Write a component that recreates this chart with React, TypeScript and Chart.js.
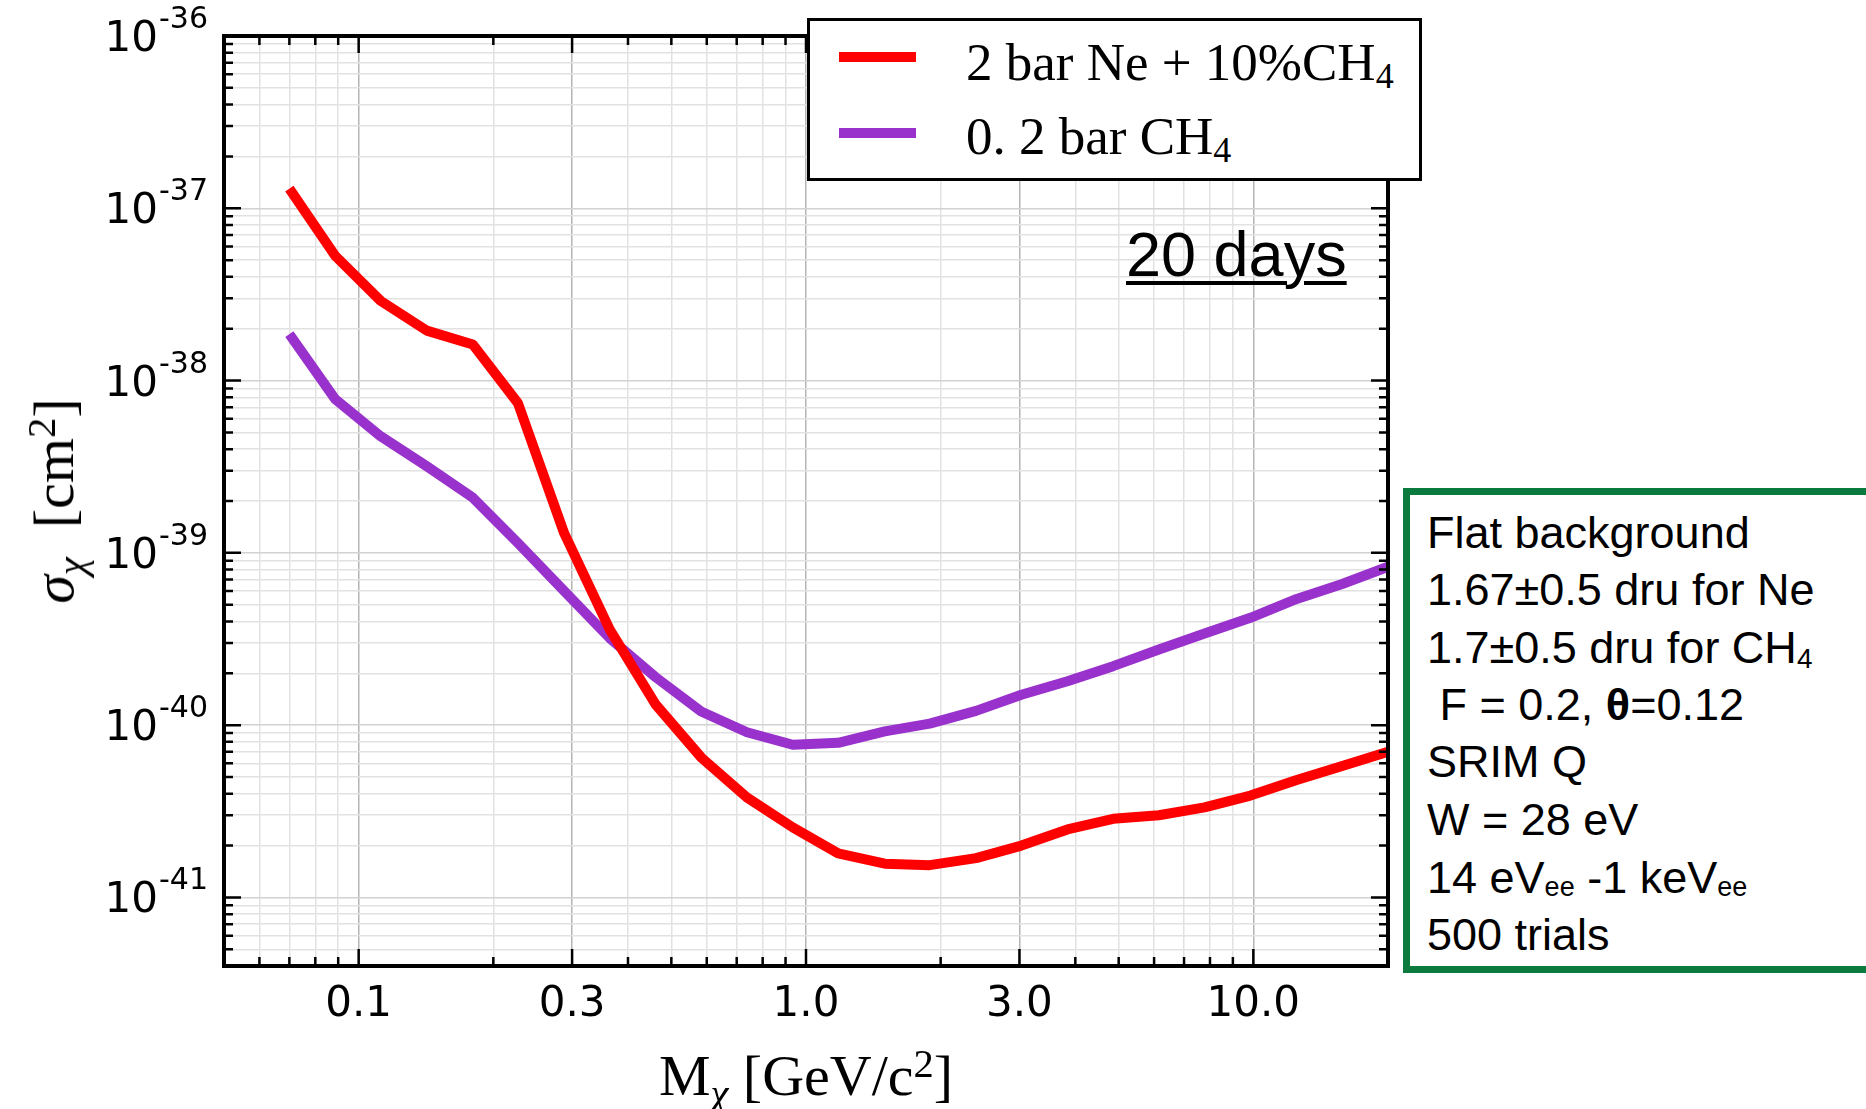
import React, { useEffect, useRef } from "react";
import { Chart, registerables } from "chart.js";

Chart.register(...registerables);

// ---- data ----
const MASS_GEV = [0.07, 0.0886, 0.112, 0.142, 0.18, 0.227, 0.288, 0.364, 0.461, 0.583, 0.738, 0.934, 1.18, 1.5, 1.89, 2.4, 3.03, 3.84, 4.86, 6.15, 7.78, 9.85, 12.5, 15.8, 20.0];
const SIGMA_NE_CH4 = [1.3e-37, 5.3e-38, 2.9e-38, 1.95e-38, 1.62e-38, 7.4e-39, 1.3e-39, 3.6e-40, 1.32e-40, 6.5e-41, 3.8e-41, 2.55e-41, 1.8e-41, 1.57e-41, 1.54e-41, 1.69e-41, 2.0e-41, 2.48e-41, 2.86e-41, 3.0e-41, 3.33e-41, 3.9e-41, 4.8e-41, 5.8e-41, 7.0e-41];
const SIGMA_CH4 = [1.86e-38, 7.8e-39, 4.75e-39, 3.18e-39, 2.09e-39, 1.14e-39, 6.0e-40, 3.2e-40, 1.9e-40, 1.2e-40, 9.1e-41, 7.7e-41, 7.9e-41, 9.2e-41, 1.02e-40, 1.21e-40, 1.5e-40, 1.8e-40, 2.2e-40, 2.75e-40, 3.4e-40, 4.2e-40, 5.4e-40, 6.6e-40, 8.3e-40];

const X_TICKS = [0.1, 0.3, 1, 3, 10];
const X_TICK_LABELS = ["0.1", "0.3", "1.0", "3.0", "10.0"];
const Y_TICKS = [1e-41, 1e-40, 1e-39, 1e-38, 1e-37, 1e-36];
const Y_TICK_EXPONENTS = ["-41", "-40", "-39", "-38", "-37", "-36"];
const X_RANGE = [0.05, 20];
const Y_RANGE = [4e-42, 1e-36];

const RED = "#ff0000";
const PURPLE = "#9932cc";
const GREEN = "#0a7a3e";

function minorValues(min: number, max: number): number[] {
  const out: number[] = [];
  const e0 = Math.floor(Math.log10(min));
  const e1 = Math.ceil(Math.log10(max));
  for (let e = e0; e <= e1; e++) {
    for (let m = 1; m <= 9; m++) {
      const v = m * Math.pow(10, e);
      if (v >= min * (1 - 1e-9) && v <= max * (1 + 1e-9)) out.push(v);
    }
  }
  return out;
}
const isIn = (v: number, list: number[]) => list.some((m) => Math.abs(Math.log10(v / m)) < 1e-6);

const X_ALL = minorValues(X_RANGE[0], X_RANGE[1]);
const Y_ALL = minorValues(Y_RANGE[0], Y_RANGE[1]);

const framePlugin = {
  id: "frame",
  afterDatasetsDraw(chart: any) {
    const { ctx, chartArea: a, scales } = chart;
    const xs = scales.x;
    const ys = scales.y;
    ctx.save();
    ctx.strokeStyle = "#000";
    ctx.lineWidth = 2.5;
    ctx.beginPath();
    X_ALL.forEach((v) => {
      const px = xs.getPixelForValue(v);
      if (px <= a.left + 1 || px >= a.right - 1) return;
      const len = isIn(v, X_TICKS) ? 17 : 9;
      ctx.moveTo(px, a.bottom);
      ctx.lineTo(px, a.bottom - len);
      ctx.moveTo(px, a.top);
      ctx.lineTo(px, a.top + len);
    });
    Y_ALL.forEach((v) => {
      const py = ys.getPixelForValue(v);
      if (py <= a.top + 1 || py >= a.bottom - 1) return;
      const len = isIn(v, Y_TICKS) ? 17 : 9;
      ctx.moveTo(a.left, py);
      ctx.lineTo(a.left + len, py);
      ctx.moveTo(a.right, py);
      ctx.lineTo(a.right - len, py);
    });
    ctx.stroke();
    ctx.lineWidth = 4;
    ctx.strokeRect(a.left, a.top, a.right - a.left, a.bottom - a.top);

    ctx.fillStyle = "#000";
    ctx.font = '42px "DejaVu Sans"';
    ctx.textAlign = "center";
    ctx.textBaseline = "alphabetic";
    X_TICKS.forEach((v, i) => {
      const px = xs.getPixelForValue(v);
      ctx.fillText(X_TICK_LABELS[i], px, a.bottom + 50);
    });
    Y_TICKS.forEach((v, i) => {
      const py = ys.getPixelForValue(v);
      const right = a.left - 16;
      ctx.font = '30px "DejaVu Sans"';
      ctx.textAlign = "right";
      const ew = ctx.measureText(Y_TICK_EXPONENTS[i]).width;
      const base = py + 15;
      ctx.fillText(Y_TICK_EXPONENTS[i], right, base - 23);
      ctx.font = '42px "DejaVu Sans"';
      ctx.fillText("10", right - ew - 1, base);
    });
    ctx.restore();
  },
};

const Sub = ({ children, size = 0.68, drop = 0.22 }: any) => (
  <span style={{ fontSize: size + "em", position: "relative", top: drop + "em" }}>{children}</span>
);
const Sup = ({ children, size = 0.68, rise = 0.5 }: any) => (
  <span style={{ fontSize: size + "em", position: "relative", top: -rise + "em" }}>{children}</span>
);

const SERIF = '"Liberation Serif", "Times New Roman", serif';
const SANS = '"Liberation Sans", Arial, sans-serif';

function At({ left, baseline, size, font, children, style }: any) {
  return (
    <div
      style={{
        position: "absolute",
        left,
        top: baseline - size * 0.845,
        fontSize: size,
        lineHeight: 1,
        fontFamily: font,
        whiteSpace: "pre",
        color: "#000",
        ...style,
      }}
    >
      {children}
    </div>
  );
}

export default function App() {
  const ref = useRef<HTMLCanvasElement | null>(null);

  useEffect(() => {
    if (!ref.current) return;
    const gridX = (c: any) => {
      const v = c.tick && c.tick.value;
      return v && isIn(v, X_TICKS) ? "#b4b4b4" : "#e2e2e2";
    };
    const gridY = (c: any) => {
      const v = c.tick && c.tick.value;
      return v && isIn(v, Y_TICKS) ? "#d2d2d2" : "#e2e2e2";
    };
    const chart = new Chart(ref.current, {
      type: "line",
      data: {
        datasets: [
          {
            label: "2 bar Ne + 10%CH4",
            data: MASS_GEV.map((m, i) => ({ x: m, y: SIGMA_NE_CH4[i] })),
            borderColor: RED,
            backgroundColor: RED,
            borderWidth: 10,
            pointRadius: 0,
            tension: 0,
            fill: false,
            borderJoinStyle: "round",
          },
          {
            label: "0.2 bar CH4",
            data: MASS_GEV.map((m, i) => ({ x: m, y: SIGMA_CH4[i] })),
            borderColor: PURPLE,
            backgroundColor: PURPLE,
            borderWidth: 10,
            pointRadius: 0,
            tension: 0,
            fill: false,
            borderJoinStyle: "round",
          },
        ],
      },
      options: {
        responsive: false,
        animation: false,
        events: [],
        layout: { padding: { left: 0, top: 36, right: 478, bottom: 0 } },
        plugins: { legend: { display: false }, tooltip: { enabled: false }, title: { display: false } },
        scales: {
          x: {
            type: "logarithmic",
            min: X_RANGE[0],
            max: X_RANGE[1],
            afterBuildTicks: (s: any) => {
              s.ticks = X_ALL.map((v) => ({ value: v }));
            },
            afterFit: (s: any) => {
              s.height = 143;
            },
            ticks: { display: false },
            grid: { color: gridX, lineWidth: 1.5, drawTicks: false },
            border: { display: false },
          },
          y: {
            type: "logarithmic",
            min: Y_RANGE[0],
            max: Y_RANGE[1],
            afterBuildTicks: (s: any) => {
              s.ticks = Y_ALL.map((v) => ({ value: v }));
            },
            afterFit: (s: any) => {
              s.width = 224;
            },
            ticks: { display: false },
            grid: { color: gridY, lineWidth: 1.5, drawTicks: false },
            border: { display: false },
          },
        },
      } as any,
      plugins: [framePlugin],
    });
    return () => chart.destroy();
  }, []);

  const boxLines: any[] = [
    <>Flat background</>,
    <>1.67±0.5 dru for Ne</>,
    <>1.7±0.5 dru for CH<Sub size={0.62} drop={0.18}>4</Sub></>,
    <> F = 0.2, <b>θ</b>=0.12</>,
    <>SRIM Q</>,
    <>W = 28 eV</>,
    <>14 eV<Sub size={0.6} drop={0.12}>ee</Sub> -1 keV<Sub size={0.6} drop={0.12}>ee</Sub></>,
    <>500 trials</>,
  ];
  const boxBaselines = [548, 605, 663, 720, 777, 835, 893, 950];

  return (
    <div style={{ position: "absolute", left: 0, top: 0, width: 1866, height: 1109, overflow: "hidden", background: "#fff" }}>
      <canvas ref={ref} width={1866} height={1109} style={{ position: "absolute", left: 0, top: 0, width: 1866, height: 1109 }} />

      {/* legend */}
      <div style={{ position: "absolute", left: 807, top: 18, width: 615, height: 163, border: "3px solid #000", background: "#fff", boxSizing: "border-box" }} />
      <div style={{ position: "absolute", left: 839, top: 52, width: 77, height: 10, background: RED }} />
      <div style={{ position: "absolute", left: 839, top: 128, width: 77, height: 10, background: PURPLE }} />
      <At left={966} baseline={81} size={53} font={SERIF}>
        2 bar Ne + 10%CH<Sub>4</Sub>
      </At>
      <At left={966} baseline={155} size={53} font={SERIF}>
        0. 2 bar CH<Sub>4</Sub>
      </At>

      {/* 20 days */}
      <At left={1126} baseline={276} size={63} font={SANS} style={{ textDecoration: "underline", textDecorationThickness: "4px", textUnderlineOffset: "5px" }}>
        20 days
      </At>

      {/* annotation box */}
      <div style={{ position: "absolute", left: 1403, top: 488, width: 470, height: 485, border: `7px solid ${GREEN}`, borderRight: "none", boxSizing: "border-box", background: "#fff" }} />
      {boxLines.map((content, i) => (
        <At key={i} left={1427} baseline={boxBaselines[i]} size={45} font={SANS}>
          {content}
        </At>
      ))}

      {/* axis titles */}
      <div style={{ position: "absolute", left: 806, top: 1096 - 58 * 0.845, transform: "translateX(-50%)", fontSize: 58, lineHeight: 1, fontFamily: SERIF, whiteSpace: "pre", color: "#000" }}>
        M<Sub size={0.7} drop={0.3}><i>χ</i></Sub> [GeV/c<Sup size={0.7} rise={0.45}>2</Sup>]
      </div>
      <div style={{ position: "absolute", left: 54, top: 501, transform: "translate(-50%, -50%) rotate(-90deg)", fontSize: 58, lineHeight: 1, fontFamily: SERIF, whiteSpace: "pre", color: "#000" }}>
        <i>σ</i><Sub size={0.7} drop={0.3}><i>χ</i></Sub>  [cm<Sup size={0.7} rise={0.45}>2</Sup>]
      </div>
    </div>
  );
}
